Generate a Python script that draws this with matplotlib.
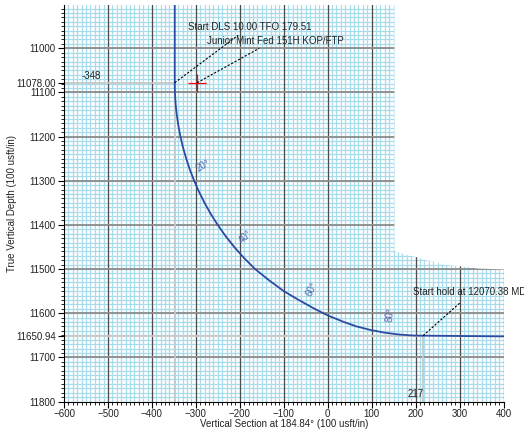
import numpy as np
import matplotlib
matplotlib.use("Agg")
import matplotlib.pyplot as plt
from matplotlib.patches import Polygon

plt.rcParams['font.family'] = ['Liberation Sans', 'DejaVu Sans']

# Well path read from the section (vertical section, TVD)
path_vs = [-348, -348, -347.9, -347.1, -345.7, -343.5, -339.8, -335.1, -329.1, -321.9,
           -313.6, -303.9, -292.8, -280.3, -266.2, -250.3, -232.6, -212.7, -190.4, -165.2,
           -134, -100, -66, -30, 0, 37, 65.6, 97.6, 129.3, 159.9, 184.6, 197.5, 217, 400]
path_tvd = [10902, 11078, 11090, 11110, 11130, 11150, 11175, 11200, 11225, 11250,
            11275, 11300, 11325, 11350, 11375, 11400, 11425, 11450, 11475, 11500,
            11525, 11550, 11570, 11590, 11605, 11620, 11630, 11638, 11644, 11648,
            11650, 11650.6, 11650.94, 11652.5]

# inclination labels along the build
inc_labels = ["20°", "40°", "60°", "80°"]
inc_vs = [-283, -186, -37, 143]
inc_tvd = [11265, 11427, 11545, 11603]
inc_rot = [32, 47, 66, 86]

kop_vs, kop_tvd = -348, 11078.00
hold_vs, hold_tvd = 217, 11650.94
target_vs, target_tvd = -297, 11078

x_ticks = [-600, -500, -400, -300, -200, -100, 0, 100, 200, 300, 400]
y_ticks = [11000, 11078.00, 11100, 11200, 11300, 11400, 11500, 11600, 11650.94, 11700, 11800]
y_ticklabels = ["11000", "11078.00", "11100", "11200", "11300", "11400", "11500",
                "11600", "11650.94", "11700", "11800"]

fig = plt.figure(figsize=(5.24, 4.29), dpi=100)
ax = fig.add_axes([64 / 524, 1 - 401.5 / 429, 439.5 / 524, 396.5 / 429])
ax.set_xlim(-600, 400)
ax.set_ylim(11800, 10902)

# graph paper grid
for v in np.arange(-590, 400, 10):
    ax.axvline(v, color='#a9dcea', lw=0.9, zorder=0)
for v in np.arange(10910, 11800, 10):
    ax.axhline(v, color='#a9dcea', lw=0.9, zorder=0)
for v in x_ticks[1:]:
    ax.axvline(v, color='#4d4d4d', lw=0.9, zorder=1)
for v in range(11000, 11800, 100):
    ax.axhline(v, color='#8c8c8c', lw=1.3, zorder=1)

# white area where the sheet is cut away
cut = [(152, 10890), (152, 11460), (177, 11467), (202, 11473), (219, 11479), (241, 11483),
       (264, 11490), (302, 11494), (344, 11499), (405, 11501), (405, 10890)]
ax.add_patch(Polygon(cut, closed=True, facecolor='white', edgecolor='none', zorder=2,
                     clip_on=False))

# projection lines
ax.plot([-600, kop_vs], [kop_tvd, kop_tvd], color='#c8c8c8', lw=1.3, zorder=3)
ax.plot([kop_vs, kop_vs], [kop_tvd, 11800], color='#c8c8c8', lw=1.3, zorder=3)
ax.plot([-600, hold_vs], [hold_tvd, hold_tvd], color='#c8c8c8', lw=1.3, zorder=3)
ax.plot([hold_vs, hold_vs], [hold_tvd, 11800], color='#c8c8c8', lw=1.3, zorder=3)

ax.plot(path_vs, path_tvd, color='#2b4aa0', lw=1.3, zorder=4)

for lab, x, y, r in zip(inc_labels, inc_vs, inc_tvd, inc_rot):
    ax.text(x, y, lab, rotation=r, color='#5566aa', fontsize=7, ha='center', va='center',
            zorder=5)

ax.plot(target_vs, target_tvd, marker='+', color='red', ms=13, mew=0.9, zorder=6)

dash = dict(color='black', lw=0.8, ls=(0, (2, 1.5)), zorder=6)
ax.plot([kop_vs, -203.6], [kop_tvd, 10970.5], **dash)
ax.plot([target_vs, -155.8], [target_tvd, 11000], **dash)
ax.plot([hold_vs, 302], [hold_tvd, 11575.6], **dash)

tc = '#222222'
ax.text(-317.5, 10952, "Start DLS 10.00 TFO 179.51", fontsize=7, color=tc, va='center', zorder=7)
ax.text(-274, 10984, "Junior Mint Fed 151H KOP/FTP", fontsize=7, color=tc, va='center', zorder=7)
ax.text(195, 11553, "Start hold at 12070.38 MD", fontsize=7, color=tc, va='center', zorder=7,
        clip_on=False)
ax.text(-561, 11063, "-348", fontsize=7, color=tc, va='center', zorder=7)
ax.text(181, 11782, "217", fontsize=7, color=tc, va='center', zorder=7)

ax.set_xticks(x_ticks)
ax.set_yticks(y_ticks)
ax.set_yticklabels(y_ticklabels)
ax.set_xticks(np.arange(-600, 401, 10), minor=True)
ax.set_yticks(np.arange(10910, 11801, 10), minor=True)
ax.tick_params(which='major', length=4, width=0.8, labelsize=7, colors='black', labelcolor=tc, pad=2)
ax.tick_params(axis='x', which='major', pad=1.5)
ax.tick_params(which='minor', length=2.2, width=0.6)
ax.grid(False)
for s in ['top', 'right']:
    ax.spines[s].set_visible(False)
for s in ['left', 'bottom']:
    ax.spines[s].set_linewidth(0.8)
    ax.spines[s].set_zorder(8)

ax.set_xlabel("Vertical Section at 184.84° (100 usft/in)", fontsize=7, color=tc)
ax.set_ylabel("True Vertical Depth (100 usft/in)", fontsize=7, color=tc)
ax.xaxis.set_label_coords(0.5, -0.044)
ax.yaxis.set_label_coords(-0.107, 0.5)

fig.savefig("out.png", dpi=100)
